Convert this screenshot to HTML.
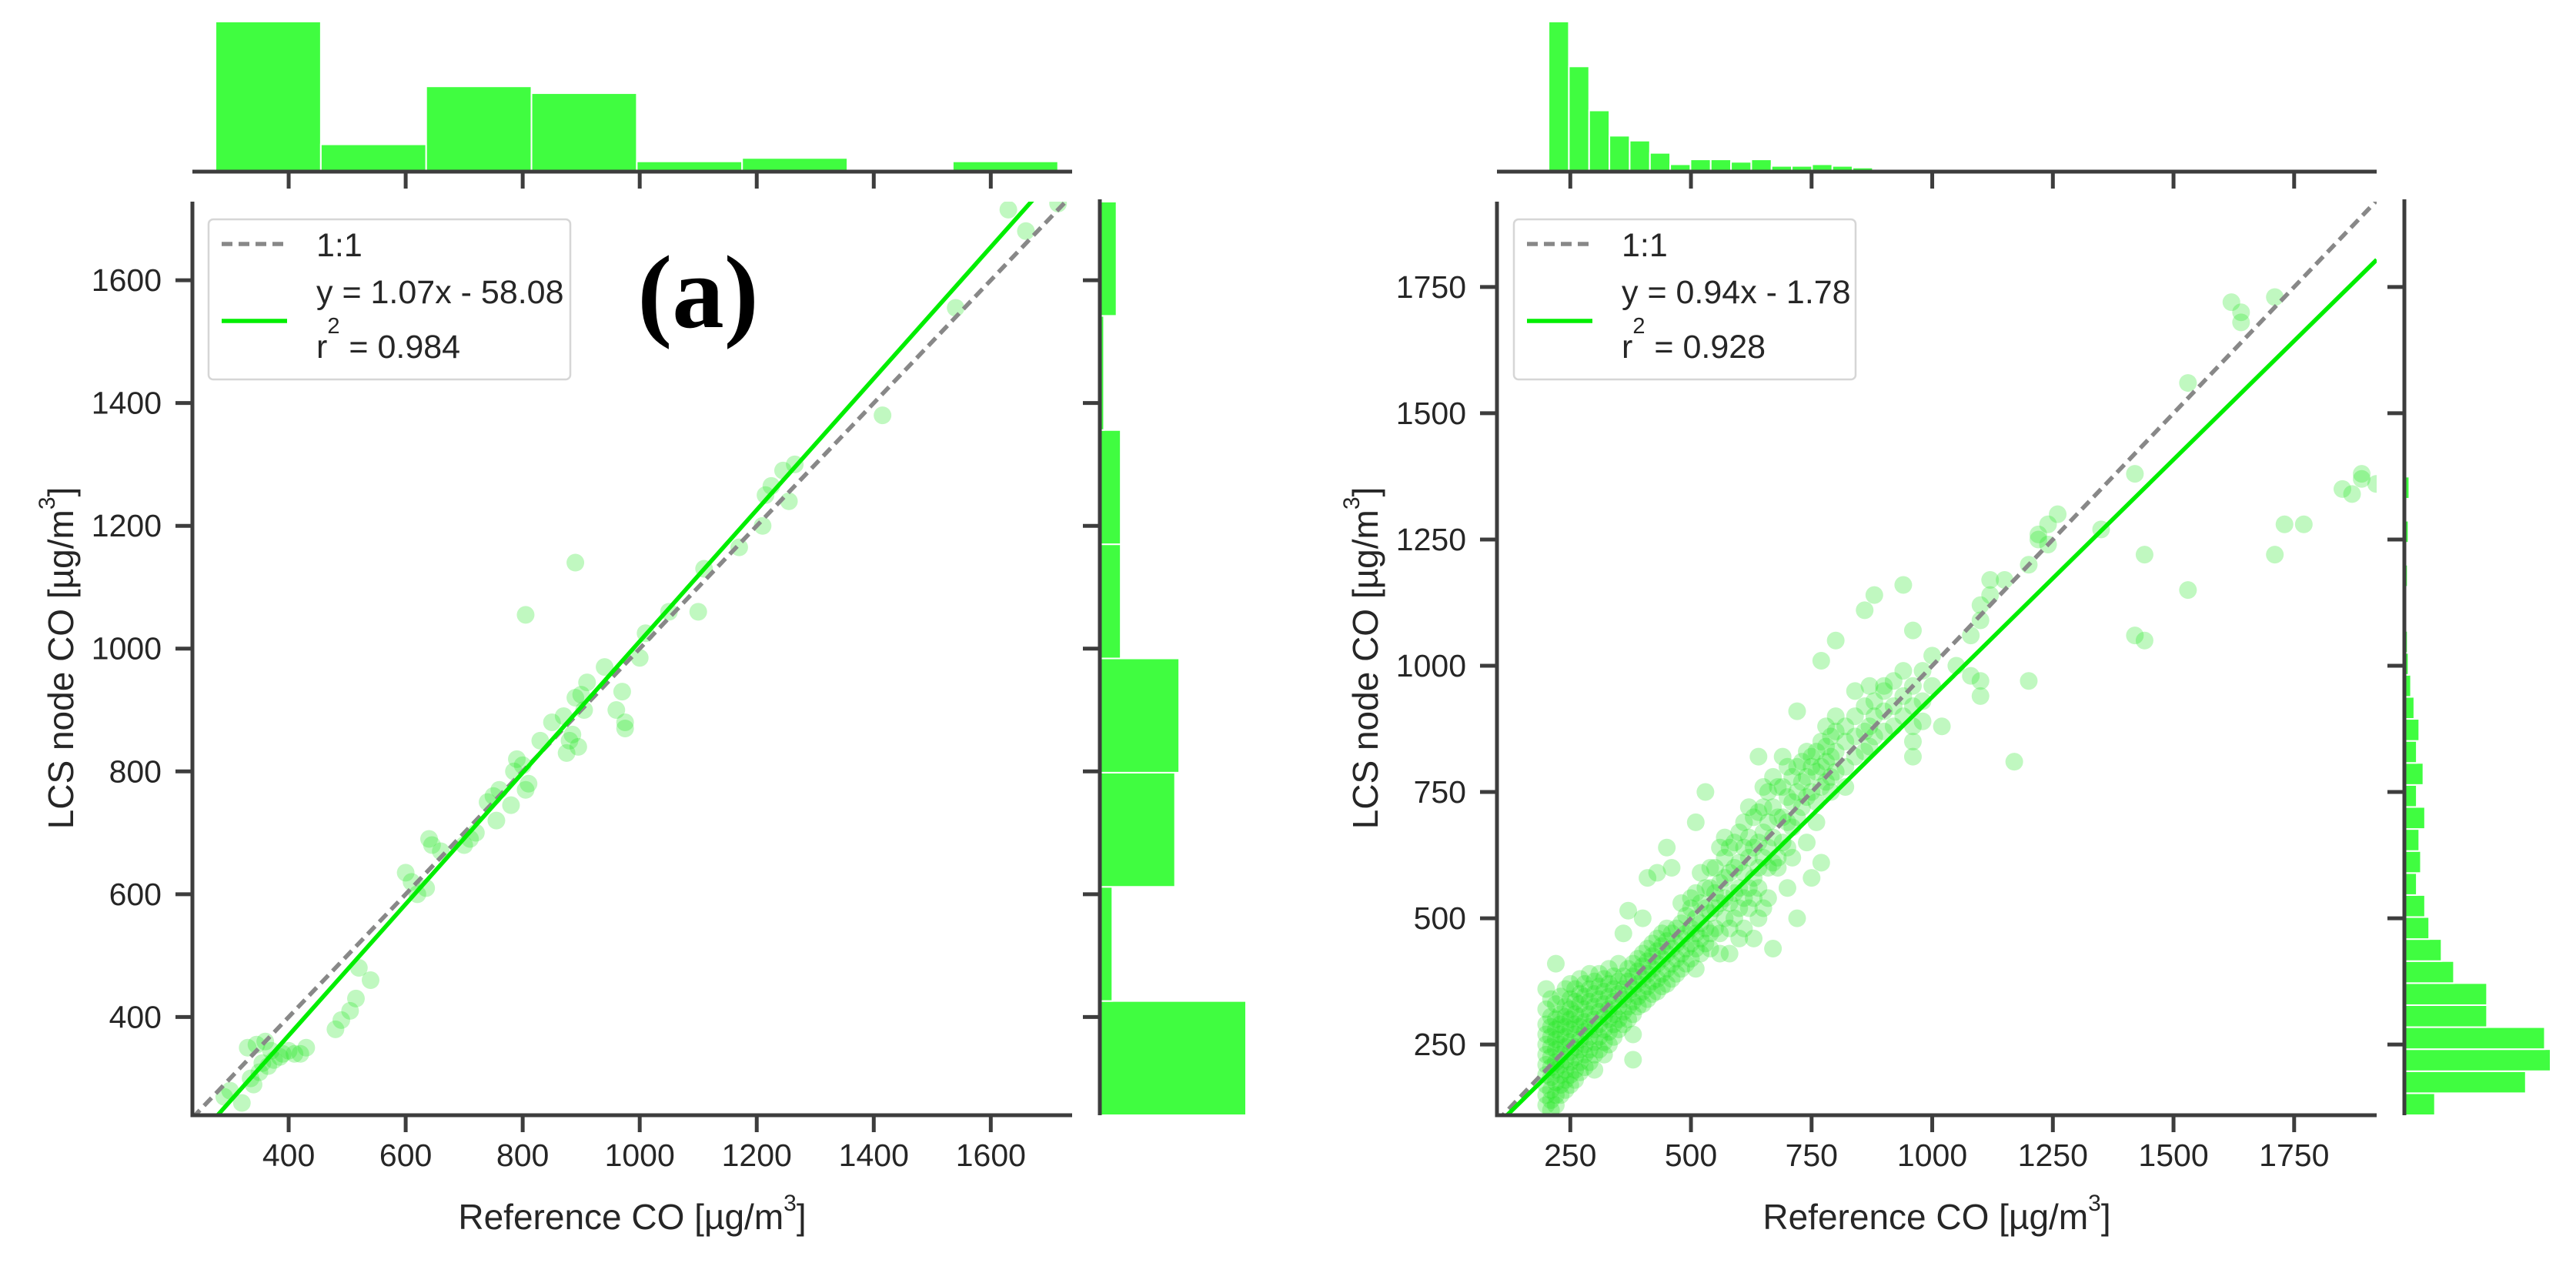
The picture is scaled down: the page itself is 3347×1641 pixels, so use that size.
<!DOCTYPE html>
<html><head><meta charset="utf-8"><style>
html,body{margin:0;padding:0;background:#fff;}
svg{display:block;font-family:"Liberation Sans",Arial,sans-serif;}
</style></head><body>
<svg id="fig" width="3347" height="1641" viewBox="0 0 3347 1641" xmlns="http://www.w3.org/2000/svg"></svg>
<script>
// ---------- Panel (a) data ----------
const aPointsX = [330,345,360,335,350,365,375,390,400,410,420,430,340,320,300,290,355,370,385,480,490,505,515,520,540,600,610,620,635,640,645,660,700,710,720,740,750,755,760,780,785,790,800,805,810,805,830,850,870,875,880,885,890,895,900,905,910,890,940,960,970,975,975,1000,1010,1050,1100,1110,1170,1210,1215,1225,1245,1255,1265,1415,1540,1630,1660,1715];
const aPointsY = [350,355,360,300,310,320,330,340,345,340,340,350,290,260,280,270,325,345,335,380,395,410,430,480,460,635,620,600,610,690,680,670,680,690,700,750,760,720,770,745,800,820,810,770,780,1055,850,880,890,830,850,860,920,840,925,900,945,1140,970,900,930,870,880,985,1025,1060,1060,1130,1165,1200,1250,1265,1290,1240,1300,1380,1555,1715,1680,1725];
const aTopCounts = [44,8,25,23,3,4,0,3];
const aTopEdgeStart = 275, aTopBinWidth = 180;
const aRightCounts = [35,3,18,19,5,5,1,4];
const aRightEdgeStart = 240, aRightBinWidth = 186;
const aXTicks = [400,600,800,1000,1200,1400,1600];
const aYTicks = [400,600,800,1000,1200,1400,1600];
const aSlope = 1.07, aIntercept = -58.08;
const aLegend = ["1:1","y = 1.07x - 58.08","0.984"];

// ---------- Panel (b) data ----------
const bColumns = [
[200,[130,150,170,190,210,230,250,270,290,320,360]],
[210,[120,140,160,185,205,225,245,265,285,305,340]],
[220,[130,150,175,200,215,240,260,280,300,330,410]],
[230,[150,170,190,210,230,250,270,290,310,345]],
[240,[160,180,200,220,245,265,285,305,325,360]],
[250,[170,190,215,235,255,280,300,320,340,370]],
[260,[180,200,225,245,270,290,310,335,360]],
[270,[195,215,240,260,285,305,330,350,380]],
[280,[205,230,250,275,295,320,345,370]],
[290,[215,240,265,285,310,335,360,390]],
[300,[200,230,255,280,300,325,350,375]],
[310,[240,265,290,315,340,365,390]],
[320,[230,255,280,305,330,355,380]],
[330,[250,275,300,320,345,370,400]],
[340,[265,290,310,335,360,385]],
[350,[280,300,325,350,375,410]],
[360,[290,315,340,360,385,470]],
[370,[300,325,350,375,400,515]],
[380,[270,310,335,360,385,410,220]],
[390,[325,345,370,395,420]],
[400,[330,355,380,405,430,500]],
[410,[340,365,390,415,440,580]],
[420,[350,375,400,425,450]],
[430,[355,380,410,435,460,590]],
[440,[365,390,420,445,470]],
[450,[370,400,430,455,480,640]],
[460,[380,410,440,470,600]],
[470,[390,420,450,480]],
[480,[400,430,460,490,530]],
[490,[410,440,470,505]],
[500,[420,450,480,520,540]],
[510,[400,440,470,500,550,690]],
[520,[430,460,490,530,590]],
[530,[450,480,520,560,750]],
[540,[440,470,510,560,600]],
[550,[480,520,550,600]],
[560,[430,470,530,570,640]],
[570,[500,540,580,620,660]],
[580,[430,480,530,590,640]],
[590,[500,550,600,650]],
[600,[460,520,560,610,670]],
[610,[480,540,590,640,690]],
[620,[520,560,620,660,720]],
[630,[540,580,640,700,460]],
[640,[560,600,650,710,820,500]],
[650,[520,620,670,720,760]],
[660,[600,640,690,750,540]],
[670,[610,660,720,780,440]],
[680,[620,700,760,600]],
[690,[650,700,760,820]],
[700,[640,690,740,800,560]],
[710,[680,730,780,620]],
[720,[700,750,800,910,500]],
[730,[720,770,810]],
[740,[740,780,830,650]],
[750,[750,800,820,580]],
[760,[730,790,830,690]],
[770,[760,800,850,610,1010]],
[780,[770,810,840,880]],
[790,[780,820,860,750]],
[800,[790,830,870,900,1050]],
[820,[800,850,880,760]],
[840,[820,860,900,950]],
[860,[830,870,920,1110]],
[870,[840,880,960]],
[880,[860,900,930,1140]],
[900,[870,910,950,960]],
[920,[880,920,970]],
[940,[900,940,990,1160]],
[960,[880,920,960,820,850,1070]],
[980,[890,930,990]],
[1000,[960,1020]],
[1020,[880]],
[1050,[1000]],
[1080,[980,1060]],
[1100,[1090,1120,940,970]],
[1120,[1140,1170]],
[1150,[1170]],
[1170,[810]],
[1200,[1200,970]],
[1220,[1250,1260]],
[1240,[1280,1240]],
[1260,[1300]],
[1350,[1270]],
[1420,[1060,1380]],
[1440,[1220,1050]],
[1530,[1150,1560]],
[1620,[1720]],
[1640,[1700,1680]],
[1710,[1220,1730]],
[1730,[1280]],
[1770,[1280]],
[1850,[1350]],
[1870,[1340]],
[1890,[1380,1370]],
[1920,[1360]]
];
const bTopCounts = [184,129,75,44,38,23,9,15,15,12,15,7,7,9,7,5,3,2,1,1,0,0,0,0,0,0,0,0,0,0,0,0,0,0,0,0,0,0,0,0,0];
const bTopEdgeStart = 205, bTopBinWidth = 42;
const bRightCounts = [37,147,177,170,100,100,60,45,30,25,15,20,18,25,15,23,15,18,12,8,5,4,3,1,4,1,5,1,6,0,0,0,0,0,0,0,0,0,0,0,0];
const bRightEdgeStart = 110, bRightBinWidth = 43.6;
const bXTicks = [250,500,750,1000,1250,1500,1750];
const bYTicks = [250,500,750,1000,1250,1500,1750];
const bSlope = 0.94, bIntercept = -1.78;
const bLegend = ["1:1","y = 0.94x - 1.78","0.928"];

const NS = "http://www.w3.org/2000/svg";
const svg = document.getElementById('fig');
function mk(tag, attrs, parent){
  const e = document.createElementNS(NS, tag);
  for (const k in attrs) e.setAttribute(k, attrs[k]);
  (parent||svg).appendChild(e);
  return e;
}
const AX = '#3d3d3d';

function panel(ox, cfg){
  const X0 = ox+250, X1 = ox+1393, Y0 = 262, Y1 = 1449;
  const sx = v => X0 + (v - cfg.xd[0])/(cfg.xd[1]-cfg.xd[0])*(X1-X0);
  const sy = v => Y1 - (v - cfg.yd[0])/(cfg.yd[1]-cfg.yd[0])*(Y1-Y0);
  const g = mk('g', {});
  
  

  const cp = mk('clipPath', {id: 'clip'+cfg.id}, g);
  mk('rect', {x:X0, y:Y0, width:X1-X0, height:Y1-Y0}, cp);
  const plot = mk('g', {'clip-path':'url(#clip'+cfg.id+')'}, g);
  
  

  for (let i=0;i<cfg.px.length;i++){
    const c = mk('circle', {cx:sx(cfg.px[i]), cy:sy(cfg.py[i]), r:11.5, fill:'#1de61d', 'fill-opacity':0.28}, plot);
    
    
  }
  const d1 = mk('line', {x1:sx(cfg.xd[0]), y1:sy(cfg.xd[0]), x2:sx(cfg.xd[1]), y2:sy(cfg.xd[1]), stroke:'#888', 'stroke-width':5.5, 'stroke-dasharray':'14 8'}, plot);
  
  
  const xa = cfg.xd[0], xb = cfg.xd[1];
  const rl = mk('line', {x1:sx(xa), y1:sy(cfg.m*xa+cfg.b), x2:sx(xb), y2:sy(cfg.m*xb+cfg.b), stroke:'#00ee00', 'stroke-width':5.5}, plot);
  
  

  mk('line', {x1:X0, y1:Y0, x2:X0, y2:Y1+2.5, stroke:AX, 'stroke-width':5}, g);
  mk('line', {x1:X0-2.5, y1:Y1, x2:X1, y2:Y1, stroke:AX, 'stroke-width':5}, g);
  cfg.xt.forEach(t=>{
    const x = sx(t);
    mk('line', {x1:x, y1:Y1, x2:x, y2:Y1+22, stroke:AX, 'stroke-width':5}, g);
    const tx = mk('text', {x:x, y:Y1+66, 'font-size':41, fill:'#262626', 'text-anchor':'middle'}, g);
    tx.textContent = t;
    
    
    mk('line', {x1:x, y1:223, x2:x, y2:245, stroke:AX, 'stroke-width':5}, g);
  });
  cfg.yt.forEach(t=>{
    const y = sy(t);
    mk('line', {x1:X0-22, y1:y, x2:X0, y2:y, stroke:AX, 'stroke-width':5}, g);
    const ty = mk('text', {x:X0-40, y:y+14, 'font-size':41, fill:'#262626', 'text-anchor':'end'}, g);
    ty.textContent = t;
    
    
    mk('line', {x1:ox+1407, y1:y, x2:ox+1429, y2:y, stroke:AX, 'stroke-width':5}, g);
  });

  const topMax = Math.max(...cfg.topC);
  cfg.topC.forEach((c,i)=>{
    if (!c) return;
    const a = cfg.topS + i*cfg.topW, b = a + cfg.topW;
    const h = c/topMax*195;
    const r = mk('rect', {x:sx(a), y:223-h, width:sx(b)-sx(a), height:h, fill:'#40fd40', stroke:'#fff', 'stroke-width':2}, g);
    
    
  });
  mk('line', {x1:X0, y1:223, x2:X1, y2:223, stroke:AX, 'stroke-width':5}, g);

  const rMax = Math.max(...cfg.rC);
  cfg.rC.forEach((c,i)=>{
    if (!c) return;
    const a = cfg.rS + i*cfg.rW, b = a + cfg.rW;
    const w = c/rMax*190;
    const yTop = Math.max(sy(b), Y0);
    const r = mk('rect', {x:ox+1429, y:yTop, width:w, height:sy(a)-yTop, fill:'#40fd40', stroke:'#fff', 'stroke-width':2}, g);
    
    
  });
  mk('line', {x1:ox+1429, y1:259, x2:ox+1429, y2:Y1, stroke:AX, 'stroke-width':5}, g);

  const xl = mk('text', {x:(X0+X1)/2, y:1597, 'font-size':46, fill:'#262626', 'text-anchor':'middle'}, g);
  xl.innerHTML = 'Reference CO [µg/m<tspan dy="-24" font-size="30">3</tspan><tspan dy="24">]</tspan>';
  
  
  const yl = mk('text', {x:0, y:0, 'font-size':46, fill:'#262626', 'text-anchor':'middle', transform:'translate('+(ox+95)+',855) rotate(-90)'}, g);
  yl.innerHTML = 'LCS node CO [µg/m<tspan dy="-24" font-size="30">3</tspan><tspan dy="24">]</tspan>';
  
  

  const lg = mk('g', {}, g);
  
  
  const lx = cfg.legX;
  mk('rect', {x:lx, y:285, width:cfg.legW, height:208, rx:6, fill:'#fff', stroke:'#d6d6d6', 'stroke-width':2.5}, lg);
  mk('line', {x1:lx+17, y1:317, x2:lx+102, y2:317, stroke:'#888', 'stroke-width':5.5, 'stroke-dasharray':'14 8'}, lg);
  mk('line', {x1:lx+17, y1:417, x2:lx+102, y2:417, stroke:'#00ee00', 'stroke-width':5.5}, lg);
  const t1 = mk('text', {x:lx+140, y:333, 'font-size':43, fill:'#262626'}, lg); t1.textContent = cfg.leg[0];
  const t2 = mk('text', {x:lx+140, y:394, 'font-size':43, fill:'#262626'}, lg); t2.textContent = cfg.leg[1];
  const t3 = mk('text', {x:lx+140, y:465, 'font-size':43, fill:'#262626'}, lg);
  t3.innerHTML = 'r<tspan dy="-32" font-size="29">2</tspan><tspan dy="32"> = '+cfg.leg[2]+'</tspan>';
}

panel(0, {id:'a', name:'panel-a', xd:[235.5,1739], yd:[240,1728], px:aPointsX, py:aPointsY,
  m:aSlope, b:aIntercept, xt:aXTicks, yt:aYTicks,
  topC:aTopCounts, topS:aTopEdgeStart, topW:aTopBinWidth,
  rC:aRightCounts, rS:aRightEdgeStart, rW:aRightBinWidth, legX:271, legW:470, leg:aLegend});

const bX = [], bY = [];
bColumns.forEach(c=>c[1].forEach(y=>{bX.push(c[0]); bY.push(y);}));
panel(1695, {id:'b', name:'panel-b', xd:[98,1921], yd:[110,1919], px:bX, py:bY,
  m:bSlope, b:bIntercept, xt:bXTicks, yt:bYTicks,
  topC:bTopCounts, topS:bTopEdgeStart, topW:bTopBinWidth,
  rC:bRightCounts, rS:bRightEdgeStart, rW:bRightBinWidth, legX:1967, legW:444, leg:bLegend});

const lab = mk('text', {x:907, y:425, 'font-size':135, 'font-weight':'bold', fill:'#000', 'text-anchor':'middle', 'font-family':'"Liberation Serif", serif'});
lab.textContent = '(a)';


</script>
</body></html>
